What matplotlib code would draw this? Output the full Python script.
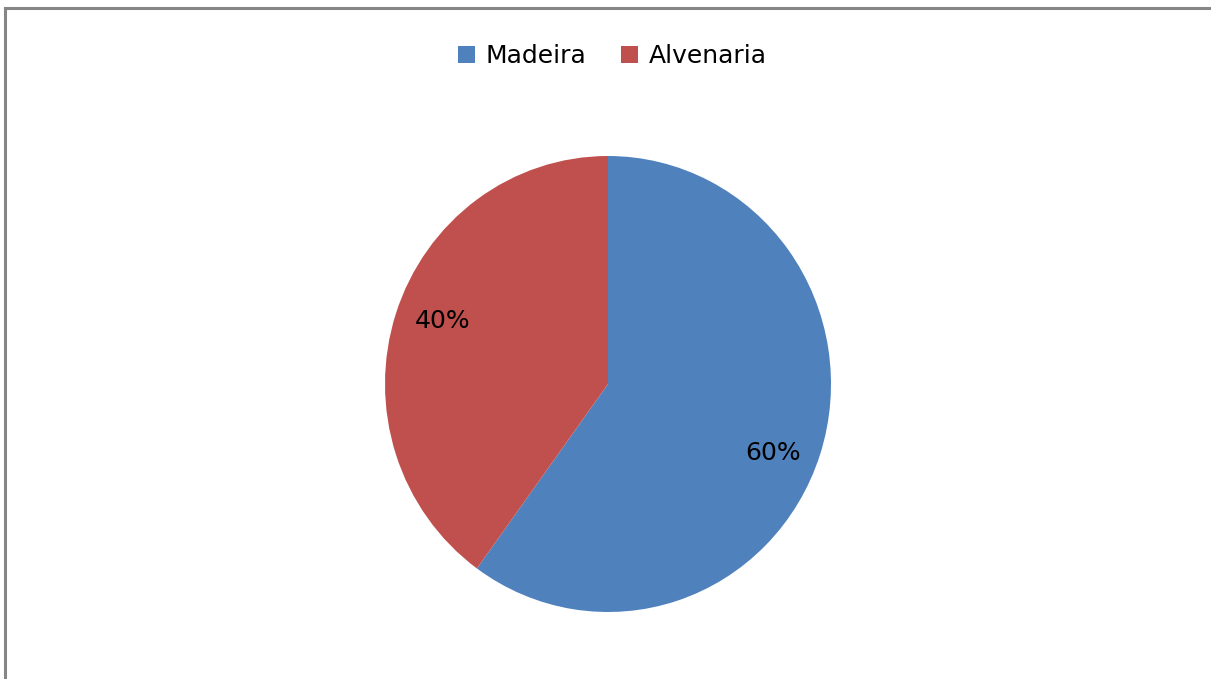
import numpy as np
import matplotlib
matplotlib.use('agg')
import matplotlib.pyplot as plt
from matplotlib.lines import Line2D

labels = ['Madeira', 'Alvenaria']
values = [60, 40]
colors = ['#4F81BD', '#C0504D']

W, H = 1211, 679
fig = plt.figure(figsize=(W / 100, H / 100), dpi=100)
fig.patch.set_facecolor('white')

# outer frame of the chart area (only top and left edges fall inside the image)
fig.add_artist(Line2D([5 / W, 5 / W], [0, 671 / H], color='#868686', linewidth=2.2))
fig.add_artist(Line2D([5 / W, 1], [671 / H, 671 / H], color='#868686', linewidth=2.2))

# pie area in pixels: x 385..831, y 156..612
ax = fig.add_axes([385 / W, (H - 612) / H, 446 / W, 456 / H])
wedges, texts, autotexts = ax.pie(values, colors=colors, startangle=90, counterclock=False,
                                  autopct='%1.0f%%', pctdistance=0.8,
                                  wedgeprops=dict(linewidth=0),
                                  textprops=dict(fontsize=18, color='black'))
# small nudges of the percentage labels
for t, (dx, dy) in zip(autotexts, [(-0.02, -0.055), (0.02, 0.03)]):
    x, y = t.get_position()
    t.set_position((x + dx, y + dy))
ax.set_aspect('auto')
ax.set_xlim(-1, 1)
ax.set_ylim(-1, 1)
ax.axis('off')

fig.legend(wedges, labels, loc='center', bbox_to_anchor=(612 / W, 1 - 56 / H), ncol=2,
           frameon=False, fontsize=18, handlelength=0.7, handleheight=0.7,
           handletextpad=0.4, columnspacing=1.4)

fig.savefig('out.png', dpi=100)
